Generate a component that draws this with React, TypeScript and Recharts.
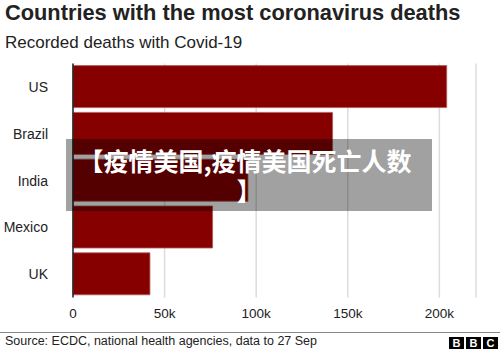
import React from 'react';
import { BarChart, Bar, XAxis, YAxis, CartesianGrid } from 'recharts';

const countries = ['US', 'Brazil', 'India', 'Mexico', 'UK'];
const deaths = [204000, 141700, 95500, 76200, 42000];
const xTicks = [0, 50000, 100000, 150000, 200000];
const xTickLabels = ['0', '50k', '100k', '150k', '200k'];

const data = countries.map((name, i) => ({ name, deaths: deaths[i] }));

const FONT = '"Liberation Sans", Arial, Helvetica, sans-serif';

const BbcLogo: React.FC = () => (
    <div style={{ position: 'absolute', left: 449, top: 337, display: 'flex', gap: 2 }}>
        {['B', 'B', 'C'].map((ch, i) => (
            <div
                key={i}
                style={{
                    width: 15, height: 12, background: '#000', color: '#fff',
                    fontWeight: 700, fontSize: 11, lineHeight: '12px', textAlign: 'center',
                }}
            >
                {ch}
            </div>
        ))}
    </div>
);

const App: React.FC = () => {
    return (
        <div style={{ position: 'absolute', left: 0, top: 0, width: 500, height: 351, background: '#fff', overflow: 'hidden', fontFamily: FONT }}>
            <div style={{ position: 'absolute', left: 5, top: 2.2, fontSize: 21.8, lineHeight: '21.8px', fontWeight: 700, color: '#222', whiteSpace: 'nowrap' }}>
                Countries with the most coronavirus deaths
            </div>
            <div style={{ position: 'absolute', left: 5, top: 33.9, fontSize: 17, lineHeight: '17px', color: '#222', whiteSpace: 'nowrap' }}>
                Recorded deaths with Covid-19
            </div>

            <div style={{ position: 'absolute', left: 0, top: 0 }}>
                <BarChart
                    width={500}
                    height={340}
                    data={data}
                    layout="vertical"
                    margin={{ top: 63.6, right: 24, left: 1, bottom: 12.4 }}
                >
                    <CartesianGrid horizontal={false} stroke="#dcdcdc" strokeWidth={1.5} />
                    <XAxis
                        type="number"
                        domain={[0, 220000]}
                        ticks={xTicks}
                        tickFormatter={(v: number) => xTickLabels[xTicks.indexOf(v)]}
                        axisLine={false}
                        tickLine={false}
                        tickSize={0}
                        tickMargin={11}
                        tick={{ fill: '#222', fontSize: 13.5, fontFamily: FONT }}
                    />
                    <YAxis
                        type="category"
                        dataKey="name"
                        width={72}
                        axisLine={{ stroke: '#222', strokeWidth: 1.5 }}
                        tickLine={false}
                        tickSize={0}
                        tickMargin={25}
                        tick={{ fill: '#222', fontSize: 14, fontFamily: FONT }}
                    />
                    <Bar dataKey="deaths" fill="#870000" stroke="#b05a5a" strokeWidth={0.8} barSize={42} isAnimationActive={false} />
                </BarChart>
            </div>

            <div
                style={{
                    position: 'absolute', left: 66, top: 139, width: 366, height: 72,
                    background: 'rgba(0,0,0,0.37)', boxSizing: 'border-box', paddingTop: 6,
                    color: '#fff', fontFamily: '"Noto Sans CJK SC", sans-serif', fontWeight: 700,
                    fontSize: 25, lineHeight: '30px', textAlign: 'center',
                }}
            >
                <div style={{ whiteSpace: 'nowrap', marginLeft: -8 }}>【疫情美国,疫情美国死亡人数</div>
                <div>】</div>
            </div>

            <div style={{ position: 'absolute', left: 0, top: 332, width: 500, height: 1, background: '#888' }} />
            <div style={{ position: 'absolute', left: 5, top: 335.4, fontSize: 12.5, lineHeight: '12.5px', color: '#222', whiteSpace: 'nowrap' }}>
                Source: ECDC, national health agencies, data to 27 Sep
            </div>
            <BbcLogo />
        </div>
    );
};

export default App;
